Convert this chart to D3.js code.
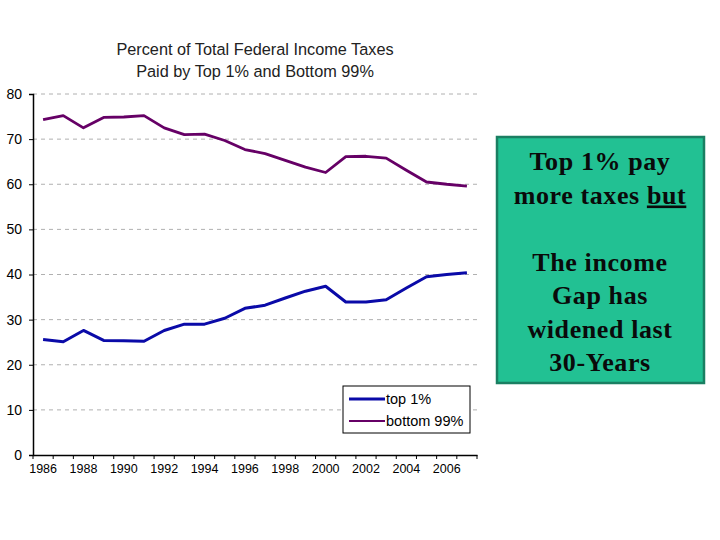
<!DOCTYPE html>
<html>
<head>
<meta charset="utf-8">
<script src="https://cdn.jsdelivr.net/npm/d3@7"></script>
<style>
html,body{margin:0;padding:0;background:#fff;}
svg{display:block;}
</style>
</head>
<body>
<svg id="chart" width="720" height="540"></svg>
<script>
const years = [1986,1987,1988,1989,1990,1991,1992,1993,1994,1995,1996,1997,1998,1999,2000,2001,2002,2003,2004,2005,2006,2007];
const top1 = [25.6,25.1,27.6,25.4,25.3,25.2,27.6,29.0,29.0,30.3,32.5,33.2,34.8,36.3,37.4,33.9,33.9,34.4,37.0,39.5,40.0,40.4];
const bottom99 = [74.3,75.2,72.5,74.8,74.9,75.2,72.5,71.0,71.1,69.7,67.7,66.8,65.3,63.8,62.6,66.1,66.2,65.8,63.1,60.5,60.0,59.6];
const yTicks = [0,10,20,30,40,50,60,70,80];
const xLabels = [1986,1988,1990,1992,1994,1996,1998,2000,2002,2004,2006];
const titleLines = ["Percent of Total Federal Income Taxes","Paid by Top 1% and Bottom 99%"];
const seriesNames = ["top 1%","bottom 99%"];
const noteLines = [["Top 1% pay"],["more taxes ","but"],[""],["The income"],["Gap has"],["widened last"],["30-Years"]];

const svg = d3.select("#chart");
const font = "'Liberation Sans', Arial, sans-serif";

const x = d3.scaleBand().domain(years).range([33, 477]);
const y = d3.scaleLinear().domain([0, 80]).range([455, 94]);

// title
svg.append("text").attr("x", 255).attr("y", 55).attr("text-anchor","middle")
  .attr("font-family", font).attr("font-size", 16.3).attr("fill","#222")
  .selectAll("tspan").data(titleLines).join("tspan")
  .attr("x",255).attr("dy",(d,i)=> i? 22:0).text(d=>d);

// gridlines
svg.append("g").selectAll("line").data(yTicks.filter(d=>d>0)).join("line")
  .attr("x1",33).attr("x2",478).attr("y1",d=>y(d)).attr("y2",d=>y(d))
  .attr("stroke","#b0b0b0").attr("stroke-width",1).attr("stroke-dasharray","4,4");

// y axis
const yAxis = d3.axisLeft(y).tickValues(yTicks).tickSize(4).tickPadding(7).tickFormat(d3.format("d"));
const gy = svg.append("g").attr("transform","translate(33,0)").call(yAxis);
gy.select(".domain").attr("stroke","#000").attr("stroke-width",1.5);
gy.selectAll(".tick line").attr("stroke","#000");
gy.selectAll("text").attr("font-family",font).attr("font-size",14).attr("fill","#000");

// x axis
const xAxis = d3.axisBottom(x).tickSize(0).tickPadding(9).tickFormat(d => xLabels.includes(d) ? d : "");
const gx = svg.append("g").attr("transform","translate(0,455)").call(xAxis);
gx.select(".domain").attr("stroke","#000").attr("stroke-width",1.5);
gx.selectAll("text").attr("font-family",font).attr("font-size",12.5).attr("fill","#000");
// category boundary ticks
gx.append("g").selectAll("line").data(years.concat(["end"])).join("line")
  .attr("x1",(d,i)=> i<years.length ? x(d) : x.range()[1])
  .attr("x2",(d,i)=> i<years.length ? x(d) : x.range()[1])
  .attr("y1",0).attr("y2",4).attr("stroke","#000");

// lines
const line = d3.line().x((d,i)=> x(years[i]) + x.bandwidth()/2).y(d=>y(d));
svg.append("path").datum(bottom99).attr("d",line).attr("fill","none")
  .attr("stroke","#660066").attr("stroke-width",2.8).attr("stroke-linejoin","round");
svg.append("path").datum(top1).attr("d",line).attr("fill","none")
  .attr("stroke","#0a0aa8").attr("stroke-width",3).attr("stroke-linejoin","round");

// legend
const lg = svg.append("g").attr("transform","translate(343,386)");
lg.append("rect").attr("width",127).attr("height",47).attr("fill","#fff").attr("stroke","#000").attr("stroke-width",1);
const lcolors = ["#0a0aa8","#660066"];
const lwidths = [3,2];
seriesNames.forEach((n,i)=>{
  lg.append("line").attr("x1",6).attr("x2",42).attr("y1",13+i*22).attr("y2",13+i*22)
    .attr("stroke",lcolors[i]).attr("stroke-width",lwidths[i]);
  lg.append("text").attr("x",43).attr("y",18+i*22).attr("font-family",font).attr("font-size",14.5)
    .attr("fill","#000").text(n);
});

// note box
svg.append("rect").attr("x",497).attr("y",137).attr("width",207).attr("height",246)
  .attr("fill","#22c193").attr("stroke","#1a7f62").attr("stroke-width",2.5);
const serif = "'Liberation Serif', 'Times New Roman', serif";
const nt = svg.append("g");
noteLines.forEach((parts,i)=>{
  const t = nt.append("text").attr("x",600).attr("y",170+i*33.5).attr("text-anchor","middle")
    .attr("font-family",serif).attr("font-size",26).attr("font-weight","bold")
    .attr("letter-spacing",0.6).attr("fill","#0a0a0a");
  parts.forEach((p,j)=>{
    t.append("tspan").text(p).attr("text-decoration", j===1 ? "underline" : null);
  });
});
</script>
</body>
</html>
